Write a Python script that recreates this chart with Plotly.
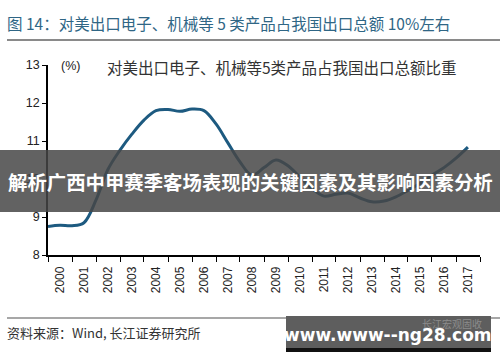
import plotly.graph_objects as go

# Data (half-year points)
dates = ["2000-01-01", "2000-07-01", "2001-01-01", "2001-07-01", "2002-01-01", "2002-07-01",
         "2003-01-01", "2003-07-01", "2004-01-01", "2004-07-01", "2005-01-01", "2005-07-01",
         "2006-01-01", "2006-07-01", "2007-01-01", "2007-07-01", "2008-01-01", "2008-07-01",
         "2009-01-01", "2009-07-01", "2010-01-01", "2010-07-01", "2011-01-01", "2011-07-01",
         "2012-01-01", "2012-07-01", "2013-01-01", "2013-07-01", "2014-01-01", "2014-07-01",
         "2015-01-01", "2015-07-01", "2016-01-01", "2016-07-01", "2017-01-01", "2017-07-01"]
share = [8.75, 8.78, 8.77, 8.85, 9.45, 10.25,
         10.76, 11.18, 11.55, 11.80, 11.83, 11.78,
         11.84, 11.80, 11.45, 10.95, 10.45, 10.10,
         10.30, 10.50, 10.35, 10.05, 9.75, 9.55,
         9.60, 9.63, 9.50, 9.40, 9.42, 9.53,
         9.70, 9.88, 10.10, 10.30, 10.55, 10.84]

title_text = "图 14：对美出口电子、机械等 5 类产品占我国出口总额 10%左右"
series_name = "对美出口电子、机械等5类产品占我国出口总额比重"
unit_text = "(%)"
source_text = "资料来源：Wind, 长江证券研究所"
banner_text = "解析广西中甲赛季客场表现的关键因素及其影响因素分析"
watermark_text = "www.www--ng28.com"
faint_text = "长江宏观固收"

CJK = "Noto Sans CJK SC, Liberation Sans, Arial, sans-serif"
LAT = "Liberation Sans, Arial, sans-serif"

W, H = 500, 362
ML, MR, MT, MB = 48, 20, 65, 107

fig = go.Figure()
fig.add_trace(go.Scatter(
    x=dates, y=share, mode="lines", name=series_name,
    line=dict(color="#1d5a80", width=3, shape="spline", smoothing=1.0),
    hoverinfo="skip", showlegend=False,
))

fig.update_layout(
    template="none",
    width=W, height=H,
    margin=dict(l=ML, r=MR, t=MT, b=MB, autoexpand=False),
    paper_bgcolor="white", plot_bgcolor="white",
    showlegend=False,
    xaxis=dict(
        type="date", range=["2000-01-01", "2018-01-01"],
        dtick="M12", tick0="2000-01-01", tickformat="%Y",
        ticklabelmode="period", tickangle=-90,
        ticks="outside", ticklen=5, tickcolor="black", tickwidth=1,
        showline=True, linecolor="black", linewidth=1.5,
        showgrid=False, zeroline=False, automargin=False,
        tickfont=dict(family=LAT, size=12, color="#222"),
    ),
    yaxis=dict(
        range=[8, 13], dtick=1, tick0=8,
        ticks="outside", ticklen=4, tickcolor="black", tickwidth=1,
        showline=True, linecolor="black", linewidth=1.5,
        showgrid=False, zeroline=False, automargin=False,
        tickfont=dict(family=LAT, size=12.5, color="#222"),
    ),
)


def px2paper(x, y):
    return (x - ML) / (W - ML - MR), (H - MB - y) / (H - MT - MB)


def ann_px(text, x, y, size, color, family=CJK, xanchor="left", bold=False, opacity=1.0):
    px, py = px2paper(x, y)
    t = f"<b>{text}</b>" if bold else text
    fig.add_annotation(text=t, x=px, y=py, xref="paper", yref="paper",
                       xanchor=xanchor, yanchor="middle", showarrow=False,
                       opacity=opacity,
                       font=dict(family=family, size=size, color=color))


def rect_px(x0, y0, x1, y1, fill):
    a0, b0 = px2paper(x0, y0)
    a1, b1 = px2paper(x1, y1)
    fig.add_shape(type="rect", xref="paper", yref="paper", x0=a0, y0=b0, x1=a1, y1=b1,
                  fillcolor=fill, line=dict(width=0), layer="above")


def line_px(x0, y0, x1, y1, color, w):
    a0, b0 = px2paper(x0, y0)
    a1, b1 = px2paper(x1, y1)
    fig.add_shape(type="line", xref="paper", yref="paper", x0=a0, y0=b0, x1=a1, y1=b1,
                  line=dict(color=color, width=w), layer="above")


# Title and rules
ann_px(title_text, 5, 23, 15.5, "#2f6685")
line_px(7, 40, 500, 40, "#8a8a8a", 2)
line_px(7, 318, 500, 318, "#8a8a8a", 1.5)
ann_px(source_text, 5, 332, 13, "#333333")

# In-chart labels
ann_px(unit_text, 59, 66, 12.5, "#222222", family=LAT)
ann_px(series_name, 105, 67, 15.5, "#333333")

# Banner overlay
rect_px(0, 150, 500, 212, "rgba(70,70,70,0.85)")
ann_px(banner_text, 250, 181, 19.4, "white", xanchor="center", bold=True)

# Watermark box
rect_px(286, 316, 491, 352, "#5e5e5e")
rect_px(286, 348, 491, 352, "#111111")
ann_px(faint_text, 484, 323, 10, "#8c8c8c", xanchor="right")
ann_px(watermark_text, 388, 335, 17, "white", family="DejaVu Sans, Liberation Sans, sans-serif",
       xanchor="center", bold=True)

fig.write_html("out.html",
               config={"displayModeBar": False},
               post_script="document.body.style.margin='0';document.body.style.overflow='hidden';")
